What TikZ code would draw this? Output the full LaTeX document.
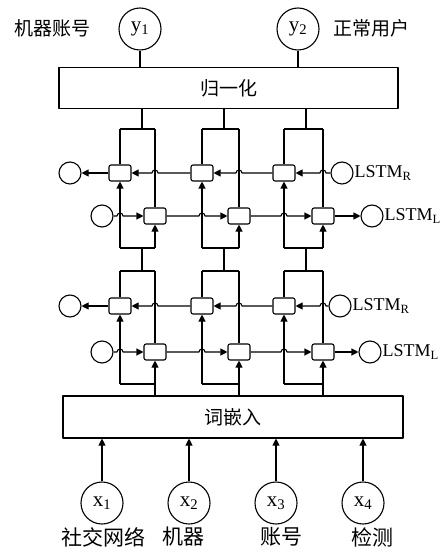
\documentclass[tikz,border=0pt]{standalone}
\usepackage{fontspec}
\setmainfont{Liberation Serif}
\newfontfamily\cjk{Noto Sans CJK SC}
\usetikzlibrary{arrows.meta,calc}
\usetikzlibrary{positioning}
\tikzset{cell/.style={draw,rounded corners=2pt,minimum width=22pt,minimum height=16pt,inner sep=0pt},
  dot/.style={draw,circle,minimum size=22pt,inner sep=0pt},
  io/.style={draw,circle,minimum size=42pt,inner sep=0pt,font=\fontsize{21}{24}\selectfont},
  bar/.style={draw,minimum height=41pt,inner sep=0pt,font=\cjk\fontsize{19}{22}\selectfont},
  zh/.style={font=\cjk\fontsize{19}{22}\selectfont,inner sep=0pt},
  lab/.style={font=\fontsize{18}{21}\selectfont,inner sep=0.5pt,anchor=west}}

\begin{document}
\begin{tikzpicture}[x=1pt,y=-1pt,>={Triangle[length=7pt,width=7pt]},line join=round,line width=1.1pt]
\useasboundingbox (0,0) rectangle (446,553);
% --- outputs and normalisation
\node[io] (y1) at (140,29) {y\textsubscript{1}};
\node[io] (y2) at (298,29) {y\textsubscript{2}};
\node[zh] (t1) at (52,28) {机器账号};
\node[zh] (t2) at (371,28) {正常用户};
\node[bar,minimum width=339pt] (norm) at (228.5,88) {归一化};
\draw (y1) -- (y1 |- norm.north) (y2) -- (y2 |- norm.north);
% --- embedding and inputs
\node[bar,minimum width=340pt,minimum height=42pt] (emb) at (233,417) {词嵌入};
\foreach \i/\x/\t/\tx in {1/102/社交网络/103,2/189/机器/183,3/276/账号/281,4/363/检测/372} {
  \node[io] (x\i) at (\x,503) {x\textsubscript{\i}};
  \node[zh,font=\cjk\fontsize{21}{24}\selectfont] (w\i) at (\tx,537) {\t};
  \draw[->] (x\i) -- (x\i |- emb.south);
}
% --- two stacked bi-LSTM layers
\foreach \b/\yt/\yr/\yl/\yb/\cr/\cl in {1/129/173/216/248/342/372,2/271/306/352/384/340/370} {
  \node[dot] (rin-\b) at (70,\yr) {};
  \node[dot] (lin-\b) at (102,\yl) {};
  \node[dot] (rout-\b) at (\cr,\yr) {};
  \node[dot] (lout-\b) at (\cl,\yl) {};
  \node[lab] (rt-\b) at (rout-\b.east) {LSTM\textsubscript{R}};
  \node[lab] (lt-\b) at (lout-\b.east) {LSTM\textsubscript{L}};
  \foreach \i/\xl/\xr in {1/120/155,2/202/239,3/284/323} {
    \node[cell] (rc-\b-\i) at (\xl,\yr) {};
    \node[cell] (lc-\b-\i) at (\xr,\yl) {};
    \coordinate (tl-\b-\i) at (\xl,\yt); \coordinate (tr-\b-\i) at (\xr,\yt);
    \coordinate (bl-\b-\i) at (\xl,\yb); \coordinate (br-\b-\i) at (\xr,\yb);
    \coordinate (s-\b-\i) at (\xl+22,\yt); \coordinate (d-\b-\i) at (\xl+22,\yb);
    \draw (tl-\b-\i) -- (tr-\b-\i) (bl-\b-\i) -- (br-\b-\i);
    \draw[->] (bl-\b-\i) -- (rc-\b-\i.south); \draw (rc-\b-\i.north) -- (tl-\b-\i);
    \draw[->] (br-\b-\i) -- (lc-\b-\i.south); \draw (lc-\b-\i.north) -- (tr-\b-\i);
  }
  % right-to-left row
  \draw[->] (rout-\b) -- ($(rout-\b.west -| lc-\b-3)+(3,0)$) arc (0:-180:3) -- (rc-\b-3);
  \foreach \i/\j in {3/2,2/1} {\draw[->] (rc-\b-\i) -- ($(rc-\b-\i.west -| lc-\b-\j)+(3,0)$) arc (0:-180:3) -- (rc-\b-\j);}
  \draw[->] (rc-\b-1) -- (rin-\b);
  % left-to-right row
  \draw[->] (lin-\b) -- ($(lin-\b.east -| rc-\b-1)+(-3,0)$) arc (180:360:3) -- (lc-\b-1);
  \foreach \i/\j in {1/2,2/3} {\draw[->] (lc-\b-\i) -- ($(lc-\b-\i.east -| rc-\b-\j)+(-3,0)$) arc (180:360:3) -- (lc-\b-\j);}
  \draw[->] (lc-\b-3) -- (lout-\b);
}
% --- stems between blocks
\foreach \i in {1,2,3} {
  \draw (norm.south -| s-1-\i) -- (s-1-\i);
  \draw (d-1-\i) -- (s-2-\i);
  \draw (emb.north -| br-2-\i) -- (br-2-\i);
}
\end{tikzpicture}
\end{document}
